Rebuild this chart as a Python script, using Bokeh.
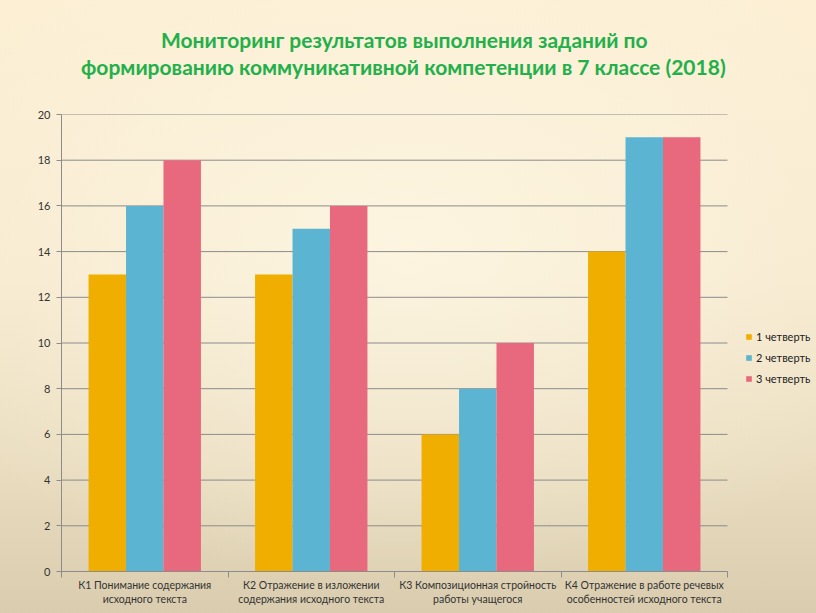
import numpy as np
from bokeh.plotting import figure
from bokeh.models import (Range1d, FixedTicker, ColumnDataSource, Legend, LegendItem,
                          Title, LinearAxis, GlobalInlineStyleSheet)
from bokeh.transform import dodge
from bokeh.embed import file_html
from bokeh.resources import INLINE

# ---- data ----
categories = [
    "К1 Понимание содержания\nисходного текста",
    "К2 Отражение в изложении\nсодержания исходного текста",
    "К3 Композиционная стройность\nработы учащегося",
    "К4 Отражение в работе речевых\nособенностей исходного текста",
]
series_names = ["1 четверть", "2 четверть", "3 четверть"]
q1 = [13, 13, 6, 14]
q2 = [16, 15, 8, 19]
q3 = [18, 16, 10, 19]
y_ticks = [0, 2, 4, 6, 8, 10, 12, 14, 16, 18, 20]
title_line1 = "Мониторинг результатов выполнения заданий по"
title_line2 = "формированию коммуникативной компетенции в 7 классе (2018)"

colors = ["#F0AE00", "#5BB5D2", "#E8697D"]
FONT = "Lato"
GRAY = "#8C8C8C"
TEXT = "#333333"

n = len(categories)
centers = [i + 0.5 for i in range(n)]
source = ColumnDataSource(dict(x=centers, q1=q1, q2=q2, q3=q3))

# the frame spans to the right edge so the legend can sit inside it;
# the categories occupy the first 666 of its 755 pixels
p = figure(width=816, height=613, output_backend="svg", toolbar_location=None,
           x_range=Range1d(0, n * 755 / 666), y_range=Range1d(0, 20),
           min_border_left=61, min_border_right=0, min_border_top=114,
           min_border_bottom=42)
p.title.visible = False
p.background_fill_alpha = 0
p.border_fill_alpha = 0
p.outline_line_color = None
p.stylesheets = [GlobalInlineStyleSheet(css="""
html { height: 100%; background:
  radial-gradient(ellipse 70% 55% at 50% 40%, rgba(255,249,232,0.7) 0%, rgba(255,249,232,0) 100%),
  linear-gradient(to bottom, #FCEFD4 0%, #F6E9CD 45%, #EADDC0 75%, #DACDAF 100%); }
""")]

# horizontal grid lines limited to the category area
p.xgrid.grid_line_color = None
p.ygrid.grid_line_color = None
grid = p.segment(x0=0, x1=n, y0=y_ticks, y1=y_ticks, line_color=GRAY, line_width=1,
                 level="underlay")

w = 0.225
renderers = []
for col, off, c in zip(["q1", "q2", "q3"], [-w, 0, w], colors):
    r = p.vbar(x=dodge("x", off, range=p.x_range), top=col, width=w, source=source,
               fill_color=c, line_color=None)
    renderers.append(r)

# axes
p.yaxis.ticker = FixedTicker(ticks=y_ticks)
p.yaxis.axis_line_color = GRAY
p.yaxis.major_tick_line_color = GRAY
p.yaxis.major_tick_out = 5
p.yaxis.major_tick_in = 0
p.yaxis.minor_tick_line_color = None
p.yaxis.major_label_text_font = FONT
p.yaxis.major_label_text_font_size = "11px"
p.yaxis.major_label_text_color = TEXT
p.yaxis.major_label_standoff = 6

p.xaxis.ticker = FixedTicker(ticks=centers, minor_ticks=list(range(n + 1)))
p.xaxis.bounds = (0, n)
p.xaxis.major_label_overrides = {c: lab for c, lab in zip(centers, categories)}
p.xaxis.axis_line_color = GRAY
p.xaxis.major_tick_line_color = None
p.xaxis.major_tick_out = 0
p.xaxis.minor_tick_line_color = GRAY
p.xaxis.minor_tick_out = 6
p.xaxis.minor_tick_in = 0
p.xaxis.major_label_text_font = FONT
p.xaxis.major_label_text_font_size = "10.5px"
p.xaxis.major_label_text_color = TEXT
p.xaxis.major_label_standoff = 1

legend = Legend(items=[LegendItem(label=s, renderers=[r]) for s, r in zip(series_names, renderers)],
                location=(684, 186), glyph_width=7, glyph_height=7, label_height=14,
                spacing=7, label_standoff=4, padding=0, margin=0,
                border_line_color=None, background_fill_alpha=0,
                label_text_font=FONT, label_text_font_size="11px",
                label_text_color="#222222")
p.add_layout(legend, "center")

# invisible spacer between frame and title lines
spacer = LinearAxis(ticker=FixedTicker(ticks=[0]), major_label_overrides={0: ""},
                    axis_line_color=None, major_tick_line_color=None,
                    minor_tick_line_color=None, major_tick_out=36, major_tick_in=0,
                    minor_tick_out=0, major_label_standoff=0, major_label_text_alpha=0)
p.add_layout(spacer, "above")

t2 = Title(text=title_line2, align="left", offset=19.5, text_font=FONT,
           text_font_style="bold", text_font_size="21px", text_color="#22B04B",
           standoff=0)
t1 = Title(text=title_line1, align="left", offset=99.5, text_font=FONT,
           text_font_style="bold", text_font_size="21px", text_color="#22B04B",
           standoff=0)
p.add_layout(t2, "above")
p.add_layout(t1, "above")

open("out.html", "w").write(file_html(p, INLINE))
